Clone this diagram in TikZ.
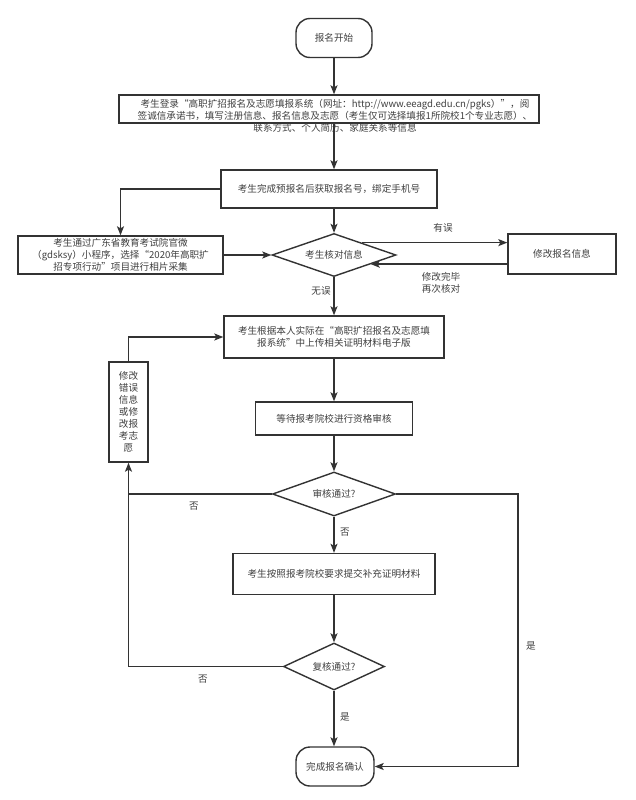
\documentclass[tikz,border=0pt]{standalone}
\usepackage{fontspec}
\newfontfamily\cjk{Noto Sans CJK SC}
\usetikzlibrary{shapes.geometric,arrows.meta}
\definecolor{ln}{HTML}{333333}
\definecolor{tx}{HTML}{404040}
\begin{document}
\begin{tikzpicture}[x=1pt,y=-1pt,
 every node/.style={font=\cjk\fontsize{9.6}{12}\selectfont, text=tx},
 box/.style={draw=ln, line width=1.4pt, rectangle, inner sep=0pt, align=center},
 term/.style={box, rounded corners=14pt},
 dia/.style={draw=ln, line width=1.4pt, diamond, inner sep=0pt, align=center},
 flow/.style={draw=ln, line width=1.4pt, -{Stealth[length=9pt,width=7pt,inset=2pt]}},
 link/.style={draw=ln, line width=1.4pt},
 lbl/.style={inner sep=0pt, align=center}]
\useasboundingbox[fill=white] (0,0) rectangle (636,800);

\node[term, minimum width=76pt, minimum height=39pt] (start) at (334,38) {报名开始};
\node[box, minimum width=420pt, minimum height=28pt] (b2) at (329,109) {};
\node[lbl] (b2t) at (335,116) {考生登录“高职扩招报名及志愿填报系统（网址：http://www.eeagd.edu.cn/pgks）”，阅\\签诚信承诺书，填写注册信息、报名信息及志愿（考生仅可选择填报1所院校1个专业志愿）、\\联系方式、个人简历、家庭关系等信息};
\node[box, minimum width=216pt, minimum height=38pt] (b3) at (329,189) {考生完成预报名后获取报名号，绑定手机号};
\node[box, minimum width=205pt, minimum height=38pt] (lb) at (120.5,255) {考生通过广东省教育考试院官微\\（gdsksy）小程序，选择“2020年高职扩\\招专项行动”项目进行相片采集};
\node[dia, aspect=2.9, minimum width=124pt, minimum height=43pt] (d1) at (334,255) {考生核对信息};
\node[box, minimum width=108pt, minimum height=40pt] (rb) at (562,254) {修改报名信息};
\node[box, minimum width=220pt, minimum height=42pt] (b4) at (334,337) {考生根据本人实际在“高职扩招报名及志愿填\\报系统”中上传相关证明材料电子版};
\node[box, minimum width=157pt, minimum height=33pt] (b5) at (334,418.5) {等待报考院校进行资格审核};
\node[dia, aspect=2.8, minimum width=123pt, minimum height=44pt] (d2) at (334,494) {审核通过?};
\node[box, minimum width=202pt, minimum height=41pt] (b6) at (334,574) {考生按照报考院校要求提交补充证明材料};
\node[dia, aspect=2.15, minimum width=101pt, minimum height=47pt] (d3) at (334,666.5) {复核通过?};
\node[term, minimum width=78pt, minimum height=39pt] (end) at (335,766.5) {完成报名确认};
\node[box, minimum width=39pt, minimum height=100pt] (vb) at (128.5,412) {修改\\错误\\信息\\或修\\改报\\考志\\愿};

\draw[flow] (start.south) -- (b2.north -| start.south);
\draw[flow] (b2.south -| start.south) -- (b3.north -| start.south);
\draw[flow] (b3.west) -| (lb.north);
\draw[flow] (b3.south -| d1.north) -- (d1.north);
\draw[flow] (lb.east) -- (d1.west);
\draw[flow] (d1.24) -- (d1.24 -| rb.west);
\draw[flow] (rb.west |- d1.-14) -- (d1.-14);
\draw[flow] (d1.south) -- (b4.north);
\draw[flow] (b4.south) -- (b5.north);
\draw[flow] (b5.south) -- (d2.north);
\draw[flow] (d2.west) -| (vb.south);
\draw[flow] (vb.north) |- (b4.west);
\coordinate (rc) at (518,494);
\draw[flow] (d2.east) -- (rc) |- (end.east);
\draw[flow] (d2.south) -- (b6.north);
\draw[flow] (b6.south) -- (d3.north);
\draw[link] (d3.west) -| (vb.south |- d2.west);
\draw[flow] (d3.south) -- (end.north -| d3.south);

\node[lbl] (l1) at (443,228) {有误};
\node[lbl] (l2) at (441,283) {修改完毕\\再次核对};
\node[lbl] (l3) at (321,291) {无误};
\node[lbl] (l4) at (194,506) {否};
\node[lbl] (l5) at (345,532) {否};
\node[lbl] (l6) at (531,646) {是};
\node[lbl] (l7) at (203,679) {否};
\node[lbl] (l8) at (345,717) {是};
\end{tikzpicture}
\end{document}
